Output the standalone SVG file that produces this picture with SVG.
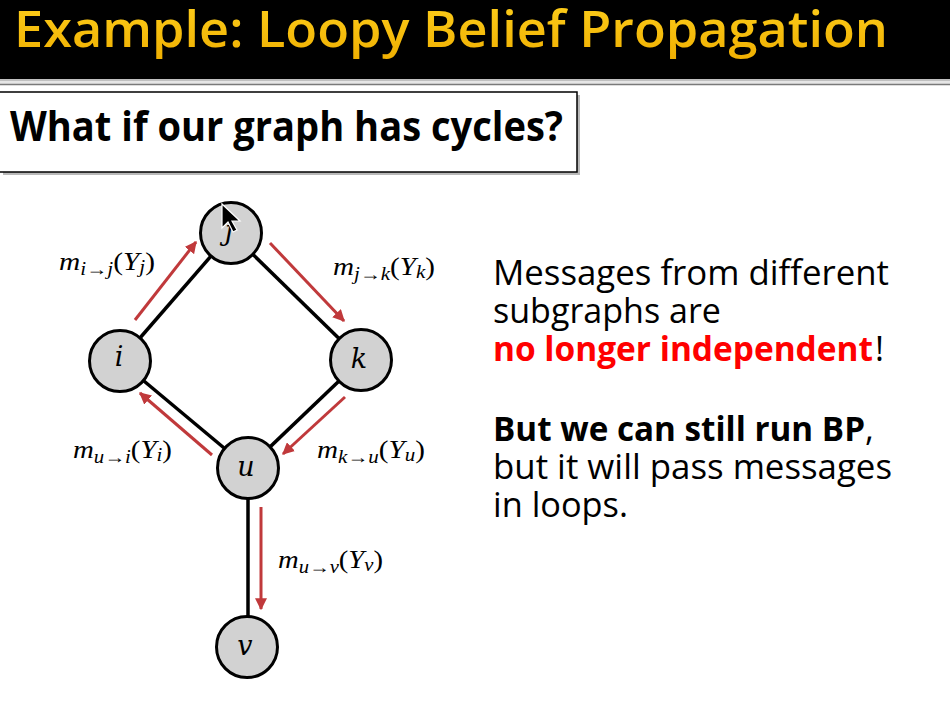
<svg xmlns="http://www.w3.org/2000/svg" width="950" height="714" viewBox="0 0 950 714">
<style>
.node circle{fill:#d2d2d2;stroke:#000;stroke-width:3}
.node text{font-family:"DejaVu Serif","Liberation Serif",serif;font-style:italic;font-size:27px;text-anchor:middle}
.edge{stroke:#000;stroke-width:3.5;fill:none}
.msg{stroke:#c0393b;stroke-width:3;fill:none;marker-end:url(#ah)}
.lbl{font-family:"Liberation Serif","DejaVu Serif",serif;font-size:25px;fill:#000}
.it{font-style:italic}
.sub{font-size:18px;font-style:italic}
.body{font-family:"Open Sans","Noto Sans",sans-serif;font-size:34px;fill:#000}
</style>
<defs>
<marker id="ah" viewBox="0 0 10 10" refX="9" refY="5" markerWidth="4" markerHeight="4" orient="auto" markerUnits="strokeWidth">
<path d="M0,0 L10,5 L0,10 z" fill="#c0393b"/>
</marker>
<linearGradient id="tg" x1="0" y1="0" x2="0" y2="1">
<stop offset="0" stop-color="#ffd21f"/>
<stop offset="1" stop-color="#efae00"/>
</linearGradient>
</defs>
<rect width="950" height="714" fill="#fff"/>
<!-- header -->
<rect x="0" y="0" width="950" height="79" fill="#000"/>
<rect x="0" y="79" width="950" height="6" fill="#e6e6e6"/>
<line x1="0" y1="80" x2="950" y2="80" stroke="#9a9a9a" stroke-width="1"/>
<line x1="0" y1="84.5" x2="950" y2="84.5" stroke="#7a7a7a" stroke-width="1.5"/>
<text x="14" y="47" font-family="Open Sans, Noto Sans, sans-serif" font-weight="600" font-size="51" fill="url(#tg)" textLength="874" lengthAdjust="spacingAndGlyphs">Example: Loopy Belief Propagation</text>
<!-- question box -->
<rect x="3" y="95" width="577" height="80" fill="#8a8a8a" opacity="0.6"/>
<rect x="-2" y="92" width="579" height="80" fill="#fff" stroke="#000" stroke-width="1.5"/>
<text x="10" y="141" font-family="Open Sans, Noto Sans, sans-serif" font-weight="bold" font-size="41" fill="#000" textLength="553" lengthAdjust="spacingAndGlyphs">What if our graph has cycles?</text>
<!-- connectors -->
<g id="connectors">
<line class="edge" x1="120" y1="361" x2="231" y2="233"/>
<line class="edge" x1="231" y1="233" x2="361" y2="360"/>
<line class="edge" x1="120" y1="361" x2="248" y2="468"/>
<line class="edge" x1="361" y1="360" x2="248" y2="468"/>
<line class="edge" x1="248" y1="468" x2="248" y2="647"/>
<line class="msg" x1="135" y1="320" x2="196" y2="242"/>
<line class="msg" x1="270" y1="243" x2="344" y2="321"/>
<line class="msg" x1="345" y1="397" x2="283" y2="454"/>
<line class="msg" x1="212" y1="455" x2="140" y2="393"/>
<line class="msg" x1="261" y1="507" x2="261" y2="609"/>
<text class="lbl" x="59" y="270" textLength="96" lengthAdjust="spacingAndGlyphs"><tspan class="it">m</tspan><tspan class="sub" dy="5">i→j</tspan><tspan dy="-5">(</tspan><tspan class="it">Y</tspan><tspan class="sub" dy="3">j</tspan><tspan dy="-3">)</tspan></text>
<text class="lbl" x="333" y="275" textLength="102" lengthAdjust="spacingAndGlyphs"><tspan class="it">m</tspan><tspan class="sub" dy="5">j→k</tspan><tspan dy="-5">(</tspan><tspan class="it">Y</tspan><tspan class="sub" dy="3">k</tspan><tspan dy="-3">)</tspan></text>
<text class="lbl" x="73" y="458" textLength="99" lengthAdjust="spacingAndGlyphs"><tspan class="it">m</tspan><tspan class="sub" dy="5">u→i</tspan><tspan dy="-5">(</tspan><tspan class="it">Y</tspan><tspan class="sub" dy="3">i</tspan><tspan dy="-3">)</tspan></text>
<text class="lbl" x="317" y="458" textLength="108" lengthAdjust="spacingAndGlyphs"><tspan class="it">m</tspan><tspan class="sub" dy="5">k→u</tspan><tspan dy="-5">(</tspan><tspan class="it">Y</tspan><tspan class="sub" dy="3">u</tspan><tspan dy="-3">)</tspan></text>
<text class="lbl" x="278" y="568" textLength="105" lengthAdjust="spacingAndGlyphs"><tspan class="it">m</tspan><tspan class="sub" dy="5">u→v</tspan><tspan dy="-5">(</tspan><tspan class="it">Y</tspan><tspan class="sub" dy="3">v</tspan><tspan dy="-3">)</tspan></text>
</g>
<!-- nodes -->
<g id="node-j" class="node"><circle cx="231" cy="233" r="30.5"/><text x="229" y="240">j</text></g>
<g id="node-i" class="node"><circle cx="120" cy="361" r="30.5"/><text x="119" y="366">i</text></g>
<g id="node-k" class="node"><circle cx="361" cy="360" r="30.5"/><text x="359" y="368">k</text></g>
<g id="node-u" class="node"><circle cx="248" cy="468" r="30.5"/><text x="246" y="476">u</text></g>
<g id="node-v" class="node"><circle cx="247" cy="647" r="30.5"/><text x="245" y="655">v</text></g>
<!-- mouse cursor -->
<path d="M222,204 L222,228 L228,222 L233,232 L237,230 L232,221 L240,221 Z" fill="#000" stroke="#fff" stroke-width="1.2"/>
<!-- right text -->
<g id="body-text" class="body">
<text x="493" y="285" textLength="396" lengthAdjust="spacingAndGlyphs">Messages from different</text>
<text x="493" y="323" textLength="228" lengthAdjust="spacingAndGlyphs">subgraphs are</text>
<text x="493" y="361" font-weight="bold" fill="#ff0000" textLength="380" lengthAdjust="spacingAndGlyphs">no longer independent</text>
<text x="875" y="361">!</text>
<text x="493" y="441" font-weight="bold" textLength="372" lengthAdjust="spacingAndGlyphs">But we can still run BP</text>
<text x="865" y="441">,</text>
<text x="493" y="479" textLength="399" lengthAdjust="spacingAndGlyphs">but it will pass messages</text>
<text x="493" y="517" textLength="135" lengthAdjust="spacingAndGlyphs">in loops.</text>
</g>
</svg>
